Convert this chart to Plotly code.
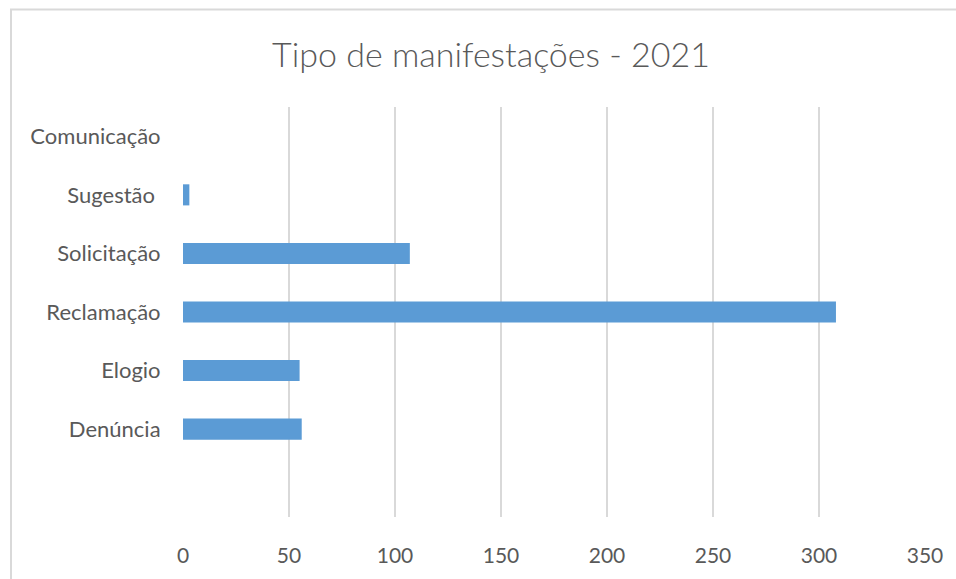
import plotly.graph_objects as go

# Data (bottom to top in the chart)
categories = ["Denúncia", "Elogio", "Reclamação", "Solicitação", "Sugestão\u00a0", "Comunicação"]
values = [56, 55, 308, 107, 3, 0]
axis_order = [" "] + categories  # empty slot at the bottom of the axis
x_ticks = [0, 50, 100, 150, 200, 250, 300, 350]

W, H = 956, 579
L, R, T, B = 183, 925, 107, 523

fig = go.Figure()
fig.add_trace(go.Bar(
    y=categories, x=values, orientation="h",
    marker=dict(color="#5B9BD5", line=dict(width=0)),
    width=0.36,
    hoverinfo="x+y",
))

font_family = "Lato, Carlito, Calibri, sans-serif"
fig.update_layout(
    width=W, height=H,
    margin=dict(l=L, r=W - R, t=T, b=H - B, pad=0),
    paper_bgcolor="white", plot_bgcolor="white",
    showlegend=False,
    font=dict(family=font_family, color="#595959", size=22),
    title=dict(
        text="Tipo de manifestações - 2021",
        font=dict(family=font_family, size=34, color="#595959", weight=300),
        x=491 / W, xref="container", xanchor="center",
        y=1 - 55 / H, yref="container", yanchor="middle",
    ),
    xaxis=dict(
        range=[0, 350], tickvals=x_ticks, ticktext=[str(v) for v in x_ticks],
        showgrid=True, gridcolor="#D9D9D9", gridwidth=2,
        zeroline=False, showline=False,
        ticks="outside", ticklen=20, tickcolor="rgba(0,0,0,0)",
        tickfont=dict(size=21, color="#595959"),
        fixedrange=True,
    ),
    yaxis=dict(
        type="category", categoryorder="array", categoryarray=axis_order,
        range=[-0.5, len(axis_order) - 0.5],
        showgrid=False, zeroline=False, showline=False,
        ticks="outside", ticklen=17, tickcolor="rgba(0,0,0,0)",
        tickfont=dict(size=22, color="#595959"),
        fixedrange=True,
    ),
    shapes=[dict(
        type="rect", xref="paper", yref="paper",
        x0=(11 - L) / (R - L), x1=(975 - L) / (R - L),
        y0=-(600 - B) / (B - T), y1=1 + (T - 8) / (B - T),
        line=dict(color="#D9D9D9", width=2), fillcolor="rgba(0,0,0,0)",
        layer="below",
    )],
)

fig.write_html("out.html", config={"displayModeBar": False},
               post_script="document.body.style.margin='0';")
